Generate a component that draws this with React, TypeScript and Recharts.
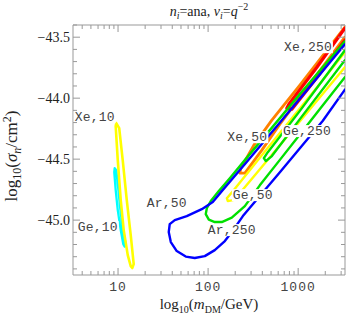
import React from 'react';
import { ScatterChart, Scatter, XAxis, YAxis, Label } from 'recharts';

// ---- data: [log10(m/GeV), log10(sigma/cm^2)] ----
const xe10 = [[0.980,-44.205],[0.974,-44.230],[0.997,-44.508],[1.030,-44.836],[1.063,-45.082],[1.108,-45.287],[1.141,-45.377],[1.158,-45.393],[1.174,-45.361],[1.141,-45.123],[1.097,-44.836],[1.052,-44.508],[1.013,-44.246],[0.980,-44.205]];
const ge10 = [[0.963,-44.574],[0.958,-44.607],[0.974,-44.754],[0.997,-44.918],[1.030,-45.082],[1.058,-45.197],[1.074,-45.217],[1.080,-45.180],[1.052,-45.066],[1.024,-44.902],[1.002,-44.738],[0.980,-44.590],[0.963,-44.574]];
const ar50 = [[3.519,-43.557],[3.152,-43.885],[2.786,-44.209],[2.419,-44.531],[2.152,-44.762],[2.052,-44.852],[1.930,-44.910],[1.763,-44.967],[1.630,-45.000],[1.574,-45.033],[1.563,-45.098],[1.586,-45.180],[1.652,-45.254],[1.752,-45.299],[1.852,-45.311],[1.963,-45.295],[2.074,-45.246],[2.186,-45.172],[2.263,-45.098],[2.386,-44.967],[2.574,-44.803],[2.797,-44.607],[3.019,-44.410],[3.274,-44.185],[3.519,-43.930]];
const ar250 = [[3.519,-43.533],[3.019,-43.967],[2.686,-44.262],[2.408,-44.508],[2.241,-44.656],[2.119,-44.762],[2.030,-44.844],[1.986,-44.902],[1.974,-44.951],[2.008,-44.996],[2.074,-45.016],[2.152,-45.016],[2.263,-44.980],[2.408,-44.885],[2.574,-44.715],[2.797,-44.506],[3.019,-44.298],[3.241,-44.089],[3.519,-43.828]];
const ge50 = [[3.519,-43.623],[3.241,-43.881],[2.908,-44.185],[2.574,-44.489],[2.286,-44.754],[2.208,-44.820],[2.219,-44.844],[2.274,-44.836],[2.352,-44.779],[2.686,-44.484],[3.019,-44.189],[3.519,-43.746]];
const ge250 = [[3.519,-43.607],[3.019,-44.104],[2.663,-44.443],[2.619,-44.492],[2.641,-44.516],[2.708,-44.475],[3.019,-44.172],[3.519,-43.689]];
const xe50 = [[3.519,-43.418],[3.019,-43.893],[2.708,-44.180],[2.508,-44.385],[2.363,-44.574],[2.352,-44.615],[2.408,-44.615],[2.597,-44.426],[2.797,-44.213],[3.519,-43.500]];
const xe250 = [[3.519,-43.426],[3.208,-43.746],[2.897,-44.049],[2.874,-44.082],[2.930,-44.090],[3.219,-43.820],[3.519,-43.525]];

const labelText = ['Xe,250', 'Xe,10', 'Xe,50', 'Ge,250', 'Ge,50', 'Ar,50', 'Ar,250', 'Ge,10'];
const labelX = [3.108, 0.741, 2.436, 3.097, 2.497, 1.541, 2.263, 0.774];
const labelY = [-43.582, -44.156, -44.320, -44.270, -44.795, -44.861, -45.082, -45.057];

const xMajor = [1, 2, 3];
const xMajorLabels = ['10', '100', '1000'];
const xMinorMult = [2, 3, 4, 5, 6, 7, 8, 9];
const yMajor = [-45.0, -44.5, -44.0, -43.5];
const yMajorLabels = ['\u221245.0', '\u221244.5', '\u221244.0', '\u221243.5'];

const X_DOMAIN: [number, number] = [0.5, 3.52];
const Y_DOMAIN: [number, number] = [-45.45, -43.4];

// ---- derived tick positions ----
const xTicks: number[] = [];
for (let n = 0; n <= 3; n++) {
  xTicks.push(n);
  for (const k of xMinorMult) xTicks.push(Math.log10(k) + n);
}
const xTicksIn = xTicks.filter((v) => v >= X_DOMAIN[0] && v <= X_DOMAIN[1]).sort((a, b) => a - b);
const yTicks: number[] = [];
for (let i = 0; i <= 20; i++) yTicks.push((-454 + i) / 10);

const toPts = (a: number[][]) => a.map(([x, y]) => ({ x, y }));
const labels = labelText.map((t, i) => ({ x: labelX[i], y: labelY[i], text: t }));

const SERIF = '"Liberation Serif", "Times New Roman", serif';
const MONO = '"Liberation Mono", "Courier New", monospace';
const FRAME = '#999999';

const XTick = (props: any) => {
  const { x, y, payload, side } = props;
  const v = payload.value;
  const mi = xMajor.findIndex((m) => Math.abs(m - v) < 1e-6);
  const len = mi >= 0 ? 7 : 4;
  if (side === 'bottom') {
    return (
      <g>
        <line x1={x} y1={y} x2={x} y2={y - len} stroke={FRAME} strokeWidth={1} />
        {mi >= 0 && (
          <text x={x} y={y + 16} textAnchor="middle" fontFamily={MONO} fontSize={13} fill="#444" letterSpacing={1}>
            {xMajorLabels[mi]}
          </text>
        )}
      </g>
    );
  }
  return <line x1={x} y1={y} x2={x} y2={y + len} stroke={FRAME} strokeWidth={1} />;
};

const YTick = (props: any) => {
  const { x, y, payload, side } = props;
  const v = payload.value;
  const mi = yMajor.findIndex((m) => Math.abs(m - v) < 1e-6);
  const len = mi >= 0 ? 7 : 4;
  if (side === 'left') {
    return (
      <g>
        <line x1={x} y1={y} x2={x + len} y2={y} stroke={FRAME} strokeWidth={1} />
        {mi >= 0 && (
          <text x={x - 3} y={y + 5} textAnchor="end" fontFamily={SERIF} fontSize={14} fill="#222">
            {yMajorLabels[mi]}
          </text>
        )}
      </g>
    );
  }
  return <line x1={x} y1={y} x2={x - len} y2={y} stroke={FRAME} strokeWidth={1} />;
};

const TitleContent = (props: any) => {
  const vb = props.viewBox || { x: 73, y: 0, width: 272, height: 25 };
  const cx = vb.x + vb.width / 2;
  return (
    <text x={cx} y={16} textAnchor="middle" fontFamily={SERIF} fontSize={14} fill="#222">
      <tspan fontStyle="italic">n</tspan>
      <tspan fontSize={10} dy={3} fontStyle="italic">i</tspan>
      <tspan dy={-3}>=ana, </tspan>
      <tspan fontStyle="italic">ν</tspan>
      <tspan fontSize={10} dy={3} fontStyle="italic">i</tspan>
      <tspan dy={-3}>=</tspan>
      <tspan fontStyle="italic">q</tspan>
      <tspan fontSize={10} dy={-6}>−2</tspan>
    </text>
  );
};

const XLabelContent = () => (
  <text x={209} y={309} textAnchor="middle" fontFamily={SERIF} fontSize={15} fill="#222">
    <tspan>log</tspan>
    <tspan fontSize={10} dy={4}>10</tspan>
    <tspan dy={-4}>(</tspan>
    <tspan fontStyle="italic">m</tspan>
    <tspan fontSize={10} dy={4}>DM</tspan>
    <tspan dy={-4}>/GeV)</tspan>
  </text>
);

const YLabel = () => (
  <g transform="translate(17 156) rotate(-90)">
    <text x={0} y={0} textAnchor="middle" fontFamily={SERIF} fontSize={17} fill="#222">
      <tspan>log</tspan>
      <tspan fontSize={12} dy={4}>10</tspan>
      <tspan dy={-4}>(</tspan>
      <tspan fontStyle="italic">σ</tspan>
      <tspan fontSize={12} dy={4} fontStyle="italic">n</tspan>
      <tspan dy={-4}>/cm</tspan>
      <tspan fontSize={12} dy={-6}>2</tspan>
      <tspan dy={6}>)</tspan>
    </text>
  </g>
);

const LabelShape = (props: any) => {
  const { cx, cy, payload } = props;
  const w = payload.text.length * 8 + 2;
  return (
    <g>
      <rect x={cx - w / 2} y={cy - 6} width={w} height={12} fill="#ffffff" />
      <text x={cx} y={cy + 4} textAnchor="middle" fontFamily={MONO} fontSize={13} fill="#444" letterSpacing={0.2}>
        {payload.text}
      </text>
    </g>
  );
};

const noShape = () => <g />;

const series: { data: number[][]; color: string; w: number }[] = [
  { data: ge10, color: '#00ffff', w: 2.3 },
  { data: xe10, color: '#ffff00', w: 2.6 },
  { data: xe50, color: '#ff8000', w: 2.8 },
  { data: xe250, color: '#ff0000', w: 3.2 },
  { data: ge50, color: '#ffff00', w: 2.4 },
  { data: ge250, color: '#00e000', w: 2.4 },
  { data: ar250, color: '#00e000', w: 2.4 },
  { data: ar50, color: '#0000ff', w: 2.4 },
];

export default function App() {
  return (
    <div style={{ position: 'absolute', left: 0, top: 0, width: 346, height: 318, background: '#fff' }}>
      <ScatterChart width={346} height={318} margin={{ top: 0, right: 0, bottom: 0, left: 0 }}>
        <XAxis xAxisId="b" type="number" dataKey="x" domain={X_DOMAIN} allowDataOverflow ticks={xTicksIn} interval={0}
          height={43} tickLine={false} tickMargin={0} tickSize={0} axisLine={{ stroke: FRAME }} tick={<XTick side="bottom" />}>
          <Label content={XLabelContent} />
        </XAxis>
        <XAxis xAxisId="t" orientation="top" type="number" dataKey="x" domain={X_DOMAIN} allowDataOverflow ticks={xTicksIn} interval={0}
          height={25} tickLine={false} tickMargin={0} tickSize={0} axisLine={{ stroke: FRAME }} tick={<XTick side="top" />}>
          <Label content={TitleContent} />
        </XAxis>
        <YAxis yAxisId="l" type="number" dataKey="y" domain={Y_DOMAIN} allowDataOverflow ticks={yTicks} interval={0}
          width={73} tickLine={false} tickMargin={0} tickSize={0} axisLine={{ stroke: FRAME }} tick={<YTick side="left" />}>
          <Label content={YLabel} />
        </YAxis>
        <YAxis yAxisId="r" orientation="right" type="number" dataKey="y" domain={Y_DOMAIN} allowDataOverflow ticks={yTicks} interval={0}
          width={1} tickLine={false} tickMargin={0} tickSize={0} axisLine={{ stroke: FRAME }} tick={<YTick side="right" />} />
        {series.map((s, i) => (
          <Scatter key={i} xAxisId="b" yAxisId="l" data={toPts(s.data)} line={{ stroke: s.color, strokeWidth: s.w, strokeLinejoin: 'round', strokeLinecap: 'round' }}
            lineType="joint" shape={noShape} isAnimationActive={false} legendType="none" />
        ))}
        <Scatter xAxisId="b" yAxisId="l" data={labels} shape={LabelShape} isAnimationActive={false} legendType="none" />
      </ScatterChart>
    </div>
  );
}
